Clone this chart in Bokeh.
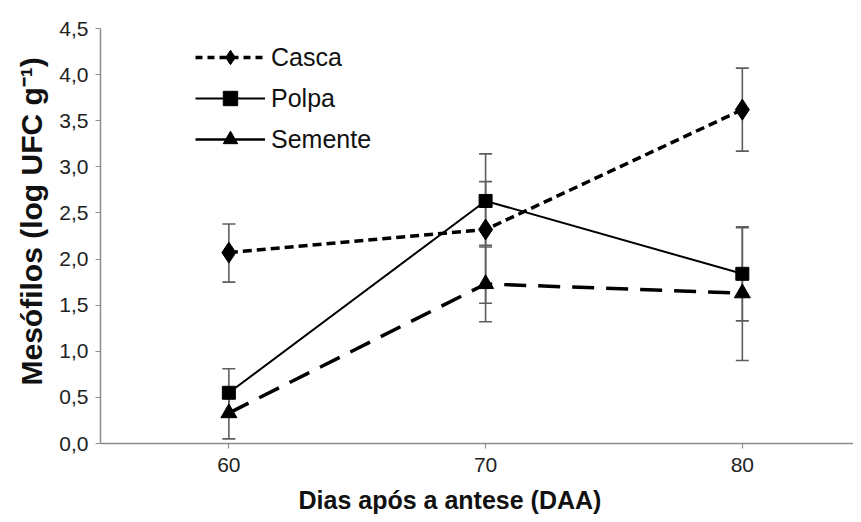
from bokeh.plotting import figure
from bokeh.models import ColumnDataSource, Whisker, TeeHead, Legend, LegendItem, FixedTicker, Range1d, Title
from bokeh.embed import file_html
from bokeh.resources import INLINE

# ---- data ----
days = [60, 70, 80]
casca = [2.07, 2.32, 3.62]
casca_lo = [1.75, 1.52, 3.17]
casca_hi = [2.38, 2.84, 4.07]
polpa = [0.55, 2.63, 1.84]
polpa_lo = [0.29, 2.15, 1.33]
polpa_hi = [0.81, 3.14, 2.34]
semente = [0.33, 1.73, 1.63]
semente_lo = [0.05, 1.32, 0.90]
semente_hi = [0.60, 2.13, 2.35]
x_ticks = [60, 70, 80]
y_ticks = [0.0, 0.5, 1.0, 1.5, 2.0, 2.5, 3.0, 3.5, 4.0, 4.5]
y_tick_labels = ["0,0", "0,5", "1,0", "1,5", "2,0", "2,5", "3,0", "3,5", "4,0", "4,5"]
series_names = ["Casca", "Polpa", "Semente"]
x_title = "Dias após a antese (DAA)"
y_title = "Mesófilos (log UFC g⁻¹)"

FONT = "Liberation Sans"

p = figure(width=853, height=522, output_backend="svg", toolbar_location=None,
           x_range=Range1d(55, 84.33), y_range=Range1d(0, 4.5),
           min_border_left=100, min_border_right=0, min_border_top=28, min_border_bottom=79)
p.outline_line_color = None
p.grid.visible = False

# axes
for ax in (p.xaxis[0], p.yaxis[0]):
    ax.axis_line_color = "#8c8c8c"
    ax.axis_line_width = 1.5
    ax.major_tick_line_color = "#8c8c8c"
    ax.major_tick_line_width = 1.2
    ax.minor_tick_line_color = None
    ax.major_tick_in = 0
    ax.major_tick_out = 5
    ax.major_label_text_font = FONT
    ax.major_label_text_font_size = "21px"
    ax.major_label_text_color = "#222222"

p.xaxis.ticker = FixedTicker(ticks=x_ticks)
p.xaxis.major_label_overrides = {t: str(t) for t in x_ticks}
p.xaxis.major_label_standoff = 9

p.yaxis.ticker = FixedTicker(ticks=y_ticks)
p.yaxis.major_label_overrides = {t: l for t, l in zip(y_ticks, y_tick_labels)}
p.yaxis.major_label_standoff = 7

# axis titles (positioned like the reference, not centred on the frame)
xt = Title(text=x_title, align="left", offset=198, standoff=18,
           text_font=FONT, text_font_size="25px", text_font_style="bold", text_color="#111111")
p.add_layout(xt, "below")
yt = Title(text=y_title, align="left", offset=58, standoff=18,
           text_font=FONT, text_font_size="30px", text_font_style="bold", text_color="#111111")
p.add_layout(yt, "left")

# error bars
for lo, hi in [(casca_lo, casca_hi), (polpa_lo, polpa_hi), (semente_lo, semente_hi)]:
    src = ColumnDataSource(dict(x=days, lo=lo, hi=hi))
    w = Whisker(base="x", lower="lo", upper="hi", source=src, dimension="height",
                line_color="#5e5e5e", line_width=1.6, level="underlay",
                upper_head=TeeHead(size=13, line_color="#5e5e5e", line_width=1.6),
                lower_head=TeeHead(size=13, line_color="#5e5e5e", line_width=1.6))
    p.add_layout(w)

src_c = ColumnDataSource(dict(x=days, y=casca))
src_p = ColumnDataSource(dict(x=days, y=polpa))
src_s = ColumnDataSource(dict(x=days, y=semente))

lc = p.line("x", "y", source=src_c, line_color="black", line_width=3.5, line_dash="9 5")
mc = p.scatter("x", "y", source=src_c, marker="diamond", size=21, color="black")
lp = p.line("x", "y", source=src_p, line_color="black", line_width=2)
mp = p.scatter("x", "y", source=src_p, marker="square", size=13, color="black")
ls = p.line("x", "y", source=src_s, line_color="black", line_width=3.5, line_dash="22 12")
ms = p.scatter("x", "y", source=src_s, marker="triangle", size=16, color="black")

# legend sample lines (no visible data; only their styles are shown in the legend)
nan = float("nan")
dummy = ColumnDataSource(dict(x=[nan], y=[nan]))
lg_c = p.line("x", "y", source=dummy, line_color="black", line_width=3.5, line_dash="7 5")
lg_p = p.line("x", "y", source=dummy, line_color="black", line_width=2)
lg_s = p.line("x", "y", source=dummy, line_color="black", line_width=2.5)

legend = Legend(items=[
    LegendItem(label=series_names[0], renderers=[lg_c, mc]),
    LegendItem(label=series_names[1], renderers=[lg_p, mp]),
    LegendItem(label=series_names[2], renderers=[lg_s, ms]),
], location=(95, 286))
legend.glyph_width = 70
legend.glyph_height = 36
legend.spacing = 5
legend.padding = 0
legend.margin = 0
legend.label_standoff = 6
legend.border_line_color = None
legend.background_fill_alpha = 0
legend.label_text_font = FONT
legend.label_text_font_size = "25px"
legend.label_text_color = "#111111"
p.add_layout(legend)

open("out.html", "w").write(file_html(p, INLINE))
